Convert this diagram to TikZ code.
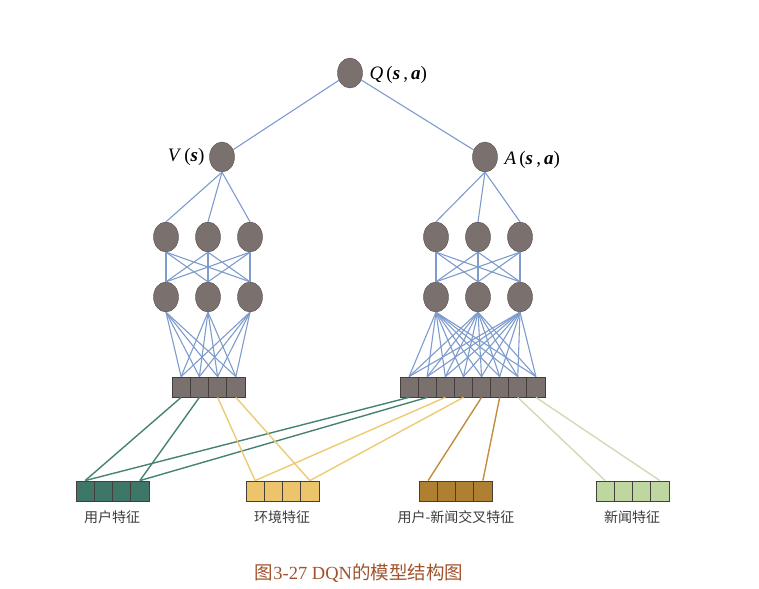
\documentclass[tikz,border=0pt]{standalone}
\usepackage{fontspec}
\setmainfont{Liberation Serif}
\newfontfamily\cjk{Noto Sans CJK SC}
\usepackage{xcolor}
\usepackage{tikz}
\usetikzlibrary{shapes.geometric}
\definecolor{neurongray}{RGB}{122,112,110}
\definecolor{neuronedge}{RGB}{90,80,78}
\definecolor{celledge}{RGB}{70,62,60}
\definecolor{wireblue}{RGB}{125,155,205}
\definecolor{userteal}{RGB}{62,118,104}
\definecolor{userwire}{RGB}{70,130,115}
\definecolor{envyellow}{RGB}{236,196,108}
\definecolor{envwire}{RGB}{238,202,115}
\definecolor{crossbrown}{RGB}{176,128,50}
\definecolor{crosswire}{RGB}{192,142,62}
\definecolor{newsgreen}{RGB}{190,214,160}
\definecolor{newswire}{RGB}{205,220,180}
\definecolor{labelgray}{RGB}{60,60,60}
\definecolor{captionred}{RGB}{160,82,45}

\begin{document}
\begin{tikzpicture}[x=1pt, y=-1pt,
  neuron/.style={ellipse, draw=neuronedge, fill=neurongray, minimum width=25pt, minimum height=30pt, inner sep=0pt},
  cell/.style={draw=celledge, line width=0.8pt, minimum width=18.2pt, minimum height=20pt, inner sep=0pt},
  wire/.style={wireblue, line width=1.1pt},
  featwire/.style={line width=1.4pt},
  featlabel/.style={labelgray, font=\cjk\fontsize{14}{16}\selectfont},
  mathlabel/.style={font=\fontsize{19}{22}\selectfont}]
\useasboundingbox (0,0) rectangle (759,588);

% output and streams
\node[neuron] (q) at (350,73) {};
\node[neuron] (v) at (222,157) {};
\node[neuron] (a) at (485,157) {};
\node[mathlabel, anchor=west] (qlab) at (366,75) {\textit{Q}\,(\textbf{\textit{s}}\,,\,\textbf{\textit{a}})};
\node[mathlabel, anchor=east] (vlab) at (208,157) {\textit{V}\,(\textbf{\textit{s}})};
\node[mathlabel, anchor=west] (alab) at (501,160) {\textit{A}\,(\textbf{\textit{s}}\,,\,\textbf{\textit{a}})};

% hidden layers
\foreach \i/\x in {1/166,2/208,3/250} {
  \node[neuron] (lh\i) at (\x,237) {};
  \node[neuron] (lg\i) at (\x,297) {};
}
\foreach \i/\x in {1/436,2/478,3/520} {
  \node[neuron] (rh\i) at (\x,237) {};
  \node[neuron] (rg\i) at (\x,297) {};
}

% input bars
\foreach \i in {1,...,4}
  \node[cell, fill=neurongray] (li\i) at ({172+18.25*(\i-0.5)},387) {};
\foreach \i in {1,...,8}
  \node[cell, fill=neurongray] (ri\i) at ({400+18.12*(\i-0.5)},387) {};

% feature bars
\foreach \i in {1,...,4} {
  \node[cell, fill=userteal] (fu\i) at ({76+18.25*(\i-0.5)},491) {};
  \node[cell, fill=envyellow] (fe\i) at ({246+18.25*(\i-0.5)},491) {};
  \node[cell, fill=crossbrown] (fc\i) at ({419+18.25*(\i-0.5)},491) {};
  \node[cell, fill=newsgreen] (fn\i) at ({596+18.25*(\i-0.5)},491) {};
}
\node[featlabel] (ulab) at (112,517) {用户特征};
\node[featlabel] (elab) at (282,517) {环境特征};
\node[featlabel] (clab) at (456,517) {用户-新闻交叉特征};
\node[featlabel] (nlab) at (632,517) {新闻特征};

% blue connections
\draw[wire] (q) -- (v);
\draw[wire] (q) -- (a);
\foreach \i in {1,2,3} {
  \draw[wire] (v.south) -- (lh\i.north);
  \draw[wire] (a.south) -- (rh\i.north);
  \foreach \j in {1,2,3} {
    \draw[wire] (lh\i.south) -- (lg\j.north);
    \draw[wire] (rh\i.south) -- (rg\j.north);
  }
  \foreach \j in {1,...,4}
    \draw[wire] (lg\i.south) -- (li\j.north);
  \foreach \j in {1,...,8}
    \draw[wire] (rg\i.south) -- (ri\j.north);
}

% feature connections
\draw[featwire, userwire] (fu1.north) -- (li1.south);
\draw[featwire, userwire] (fu4.north) -- (li2.south);
\draw[featwire, userwire] (fu1.north) -- (ri1.south);
\draw[featwire, userwire] (fu4.north) -- (ri2.south);
\draw[featwire, envwire] (fe1.north) -- (li3.south);
\draw[featwire, envwire] (fe4.north) -- (li4.south);
\draw[featwire, envwire] (fe1.north) -- (ri3.south);
\draw[featwire, envwire] (fe4.north) -- (ri4.south);
\draw[featwire, crosswire] (fc1.north) -- (ri5.south);
\draw[featwire, crosswire] (fc4.north) -- (ri6.south);
\draw[featwire, newswire] (fn1.north) -- (ri7.south);
\draw[featwire, newswire] (fn4.north) -- (ri8.south);

% caption
\node[captionred, font=\fontsize{18.5}{21}\selectfont] (caption) at (359,573) {{\cjk 图}3-27 DQN{\cjk 的模型结构图}};
\end{tikzpicture}
\end{document}
